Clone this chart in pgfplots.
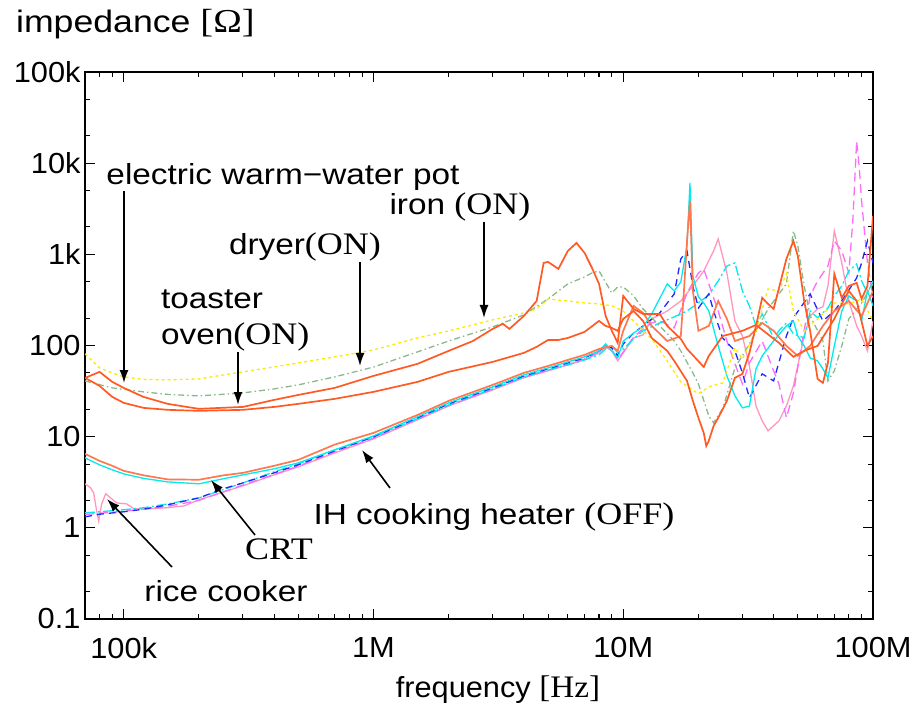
\documentclass[border=0pt]{standalone}
\usepackage{fontspec}
\setmainfont{Liberation Sans}[FakeStretch=1.15]
\newfontfamily\serifft{Liberation Serif}[FakeStretch=1.15,Scale=1.08]
\newfontfamily\tickft{Liberation Sans}[FakeStretch=1.06]
\newfontfamily\tickserif{Liberation Serif}[FakeStretch=1.06,Scale=1.08]
\usepackage{pgfplots}
\pgfplotsset{compat=1.18}
\usetikzlibrary{arrows.meta}
\definecolor{cY}{RGB}{250,235,0}
\definecolor{cG}{RGB}{140,185,140}
\definecolor{cO}{RGB}{255,90,35}
\definecolor{cOb}{RGB}{255,120,80}
\definecolor{cC}{RGB}{0,235,240}
\definecolor{cB}{RGB}{30,40,255}
\definecolor{cM}{RGB}{250,110,250}
\definecolor{cP}{RGB}{255,150,190}
\newcommand{\sr}[1]{{\serifft #1}}
\newcommand{\bigf}{\fontsize{29}{36}\selectfont}
\begin{document}
\begin{tikzpicture}
\useasboundingbox (-85pt,-91pt) rectangle (830pt,619pt);
\begin{axis}[
  xmode=log, ymode=log, scale only axis, width=788pt, height=547pt,
  xmin=7e4, xmax=1e8, ymin=0.1, ymax=1e5,
  xtick={1e5,1e6,1e7,1e8}, xticklabels={100k,1M,10M,100M},
  ytick={0.1,1,10,100,1000,10000,100000},
  yticklabels={0.1,1,10,100,1k,10k,100k},
  minor xtick={8e4,9e4,2e5,3e5,4e5,5e5,6e5,7e5,8e5,9e5,2e6,3e6,4e6,5e6,6e6,7e6,8e6,9e6,2e7,3e7,4e7,5e7,6e7,7e7,8e7,9e7},
  minor ytick={0.2,0.5,2,5,20,50,200,500,2000,5000,20000,50000},
  tick align=inside, major tick length=10pt, minor tick length=5pt,
  axis line style={line width=1.7pt},
  every tick/.style={black, line width=1.1pt},
  ticklabel style={font=\tickft\bigf},
  xticklabel style={yshift=-15pt},
  yticklabel style={xshift=-1pt},
  clip=true,
]
% P rice cooker (pink)
\addplot[cP, line width=1.3pt] coordinates {(7e4,3.04)(7.37e4,2.75)(7.58e4,2.42)(7.79e4,1.54)(7.94e4,1.19)(8.16e4,1.83)(8.47e4,2.36)(9.37e4,1.88)(1.028e5,1.83)(1.097e5,1.62)(1.283e5,1.62)(1.488e5,1.66)(1.742e5,1.74)(2e5,2.03)(3e5,2.89)(4e5,3.81)(5e5,4.67)(7e5,6.64)(1e6,9.46)(1.5e6,15.3)(2e6,21.7)(3e6,32.6)(4e6,44.2)(5e6,52.7)(6e6,61.3)(7e6,69.5)(8e6,83)(8.5e6,96.6)(9e6,87.3)(9.5e6,67.8)(1e7,83)(1.1e7,121)(1.2e7,131)(1.3e7,196)(1.5e7,239)(1.7e7,308)(1.9e7,450)(2.1e7,658)(2.3e7,1090)(2.4e7,1475)(2.6e7,625)(2.8e7,186)(3e7,127)(3.2e7,59.7)(3.4e7,21.7)(3.6e7,14.9)(3.8e7,11.6)(4.2e7,14.9)(4.5e7,21.7)(4.8e7,36.1)(5.3e7,127)(5.6e7,211)(6e7,252)(6.3e7,265)(6.6e7,450)(7e7,1806)(7.5e7,805)(8e7,308)(8.6e7,164)(9e7,127)(9.5e7,87.3)(1e8,186)};
% M violet dashed
\addplot[cM, line width=1.3pt, dash pattern=on 9pt off 5pt] coordinates {(7e4,1.4)(1e5,1.52)(1.5e5,1.72)(2e5,2.0)(3e5,2.95)(4e5,3.85)(5e5,4.75)(7e5,6.8)(1e6,9.6)(1.5e6,15.5)(2e6,22)(3e6,33)(4e6,45)(5e6,53.5)(6e6,62)(7e6,71)(8e6,85)(8.5e6,100)(9e6,90)(9.5e6,70)(1e7,85)(1.1e7,124)(1.2e7,152)(1.3e7,177)(1.4e7,186)(1.6e7,156)(1.8e7,377)(2e7,625)(2.1e7,692)(2.2e7,474)(2.4e7,239)(2.6e7,112)(2.8e7,62.9)(3e7,37.9)(3.2e7,64.4)(3.6e7,112)(4e7,52.7)(4.2e7,37.9)(4.5e7,16.1)(4.8e7,30.2)(5.3e7,145)(5.6e7,350)(6e7,511)(6.6e7,746)(7e7,1403)(7.5e7,1090)(8e7,625)(8.3e7,2324)(8.6e7,17500)(8.8e7,9310)(9e7,3850)(9.5e7,805)(1e8,333)};
% C2 cyan dash-dot
\addplot[cC, line width=1.3pt, dash pattern=on 10pt off 3pt on 2pt off 3pt] coordinates {(7e4,1.46)(8e4,1.5)(1e5,1.58)(1.2e5,1.66)(1.5e5,1.83)(2e5,2.13)(3e5,3.11)(4e5,4.11)(5e5,5.03)(7e5,7.17)(1e6,9.95)(1.5e6,15.7)(2e6,22.3)(3e6,33.4)(4e6,45.3)(5e6,54)(6e6,61.3)(7e6,69.5)(8e6,78.9)(8.5e6,91.8)(9e6,99)(9.5e6,83)(1e7,91.8)(1.1e7,118)(1.2e7,145)(1.4e7,177)(1.6e7,206)(1.8e7,239)(2e7,293)(2.2e7,359)(2.4e7,511)(2.6e7,746)(2.8e7,805)(3e7,397)(3.2e7,272)(3.4e7,164)(3.6e7,222)(4e7,121)(4.2e7,145)(4.5e7,177)(4.8e7,134)(5.3e7,121)(5.6e7,239)(6e7,201)(6.3e7,228)(6.6e7,258)(7e7,350)(7.5e7,450)(8e7,658)(8.6e7,785)(9e7,511)(9.5e7,377)(1e8,511)};
% B blue dashed (IH cooking heater)
\addplot[cB, line width=1.3pt, dash pattern=on 7pt off 5pt] coordinates {(7e4,1.32)(8e4,1.41)(1e5,1.5)(1.2e5,1.6)(1.5e5,1.79)(2e5,2.13)(2.5e5,2.68)(3e5,3.11)(4e5,4.01)(5e5,4.91)(7e5,6.99)(1e6,9.95)(1.5e6,16.1)(2e6,22.9)(3e6,34.3)(4e6,46.4)(5e6,55.4)(6e6,64.4)(7e6,73.1)(8e6,87.3)(8.5e6,99)(9e6,94.2)(9.5e6,76.9)(1e7,104)(1.1e7,137)(1.2e7,164)(1.4e7,228)(1.6e7,368)(1.7e7,891)(1.8e7,1090)(1.9e7,450)(2e7,258)(2.2e7,368)(2.3e7,239)(2.5e7,121)(2.8e7,87.3)(3e7,50.1)(3.2e7,26.6)(3.6e7,48.9)(4e7,40.9)(4.5e7,127)(4.8e7,201)(5.6e7,368)(6.3e7,186)(7e7,239)(7.5e7,308)(8.6e7,551)(9e7,805)(9.5e7,1403)(1e8,805)};
% C1 cyan solid
\addplot[cC, line width=1.3pt] coordinates {(7e4,5.86)(8e4,4.91)(9e4,4.33)(1e5,3.91)(1.2e5,3.49)(1.5e5,3.19)(2e5,3.04)(2.5e5,3.45)(3e5,3.81)(4e5,4.44)(5e5,5.16)(7e5,7.17)(1e6,10.2)(1.5e6,16.5)(2e6,23.5)(3e6,35.2)(4e6,47.6)(5e6,56.8)(6e6,66.1)(7e6,75)(8e6,87.3)(8.5e6,104)(9e6,87.3)(9.5e6,73.1)(1e7,112)(1.1e7,137)(1.2e7,160)(1.3e7,222)(1.5e7,474)(1.6e7,397)(1.7e7,498)(1.8e7,1236)(1.85e7,6067)(1.9e7,579)(2e7,341)(2.1e7,293)(2.2e7,239)(2.4e7,99)(2.6e7,46.4)(2.8e7,28)(3e7,20.7)(3.2e7,21.7)(3.4e7,55.4)(3.6e7,76.9)(4e7,112)(4.5e7,164)(4.8e7,186)(5e7,127)(5.3e7,99)(5.6e7,73.1)(6e7,67.8)(6.3e7,55.4)(6.6e7,44.2)(7e7,99)(7.5e7,239)(8e7,350)(8.6e7,308)(9e7,186)(9.5e7,397)(1e8,272)};
% G gray-green dash-dot
\addplot[cG, line width=1.3pt, dash pattern=on 6pt off 3pt on 1.5pt off 3pt] coordinates {(7e4,40.9)(9e4,34.3)(1.2e5,31)(1.5e5,29.1)(2e5,28)(3e5,30.2)(4e5,33.4)(5e5,37)(7e5,45.3)(1e6,58)(1.5e6,85.1)(2e6,112)(3e6,160)(4e6,217)(5e6,324)(6e6,474)(7e6,565)(7.5e6,625)(8e6,658)(9e6,377)(9.5e6,439)(1e7,439)(1.1e7,350)(1.2e7,252)(1.4e7,164)(1.6e7,112)(1.7e7,87.3)(1.9e7,50.1)(2e7,37.9)(2.2e7,16.9)(2.3e7,14.2)(2.5e7,20.2)(2.8e7,56.8)(3.2e7,104)(3.8e7,252)(4.5e7,474)(4.8e7,1806)(5e7,1236)(5.3e7,450)(5.6e7,211)(6.3e7,112)(6.6e7,40.9)(7e7,52.7)(7.5e7,99)(8e7,196)(9e7,293)(9.5e7,377)(1e8,474)};
% Y yellow dashed
\addplot[cY, line width=1.3pt, dash pattern=on 3pt off 3pt] coordinates {(7e4,81)(8e4,56.8)(9e4,50.1)(1e5,45.3)(1.2e5,42.5)(1.5e5,42)(2e5,43)(3e5,51.4)(4e5,58.2)(5e5,64.4)(7e5,75)(1e6,89.5)(1.5e6,121)(2e6,144.5)(3e6,191)(4e6,228)(4.5e6,252)(5e6,324)(6e6,308)(7e6,293)(8e6,286)(9e6,272)(1e7,239)(1.1e7,186)(1.3e7,118)(1.5e7,67.8)(1.7e7,39.9)(2e7,29.5)(2.2e7,35.2)(2.5e7,38.9)(2.8e7,94.2)(3e7,71.3)(3.4e7,145)(3.8e7,418)(4.2e7,397)(4.5e7,610)(4.8e7,239)(5.3e7,145)(6e7,196)(7e7,293)(8e7,286)(9e7,324)(1e8,186)};
% O3 orange CRT
\addplot[cOb, line width=1.7pt] coordinates {(7e4,6.48)(8e4,5.43)(9e4,4.79)(1e5,4.22)(1.2e5,3.77)(1.5e5,3.4)(2e5,3.37)(2.5e5,3.76)(3e5,4.01)(4e5,4.79)(5e5,5.57)(7e5,8.2)(1e6,11)(1.5e6,17.3)(2e6,24.7)(3e6,37)(4e6,50.1)(5e6,59.7)(6e6,69.5)(7e6,78.9)(8e6,91.8)(9e6,99)(9.5e6,87.3)(1e7,145)(1.1e7,272)(1.2e7,228)(1.3e7,164)(1.5e7,112)(1.7e7,127)(1.75e7,397)(1.8e7,1403)(1.85e7,3850)(1.9e7,397)(2e7,145)(2.2e7,164)(2.4e7,308)(2.6e7,196)(2.8e7,112)(3.2e7,127)(3.6e7,177)(4e7,145)(4.5e7,99)(5e7,76.9)(5.6e7,99)(6.3e7,164)(7e7,239)(8e7,308)(9e7,211)(1e8,397)};
% O2 orange toaster oven
\addplot[cO, line width=1.7pt] coordinates {(7e4,44.2)(8e4,36.1)(9e4,27.3)(1e5,23.5)(1.2e5,20.7)(1.5e5,19.7)(2e5,19.2)(3e5,19.7)(4e5,21.2)(5e5,22.9)(7e5,26)(1e6,31)(1.5e6,39.9)(2e6,51.4)(3e6,66.1)(4e6,83)(4.5e6,96.6)(5e6,115)(5.5e6,115)(6e6,121)(7e6,141)(8e6,186)(8.5e6,164)(9e6,156)(9.5e6,145)(1e7,196)(1.1e7,239)(1.2e7,186)(1.3e7,121)(1.5e7,87.3)(1.6e7,67.8)(1.8e7,40.9)(1.9e7,24.7)(2e7,16.1)(2.1e7,11)(2.15e7,7.9)(2.2e7,9)(2.3e7,13.1)(2.4e7,16.1)(2.6e7,24.7)(2.8e7,44.2)(3e7,48.9)(3.2e7,83)(3.4e7,164)(3.6e7,333)(3.8e7,286)(4e7,252)(4.5e7,891)(4.8e7,1403)(5e7,960)(5.3e7,308)(5.6e7,145)(6e7,43)(6.3e7,38.9)(6.6e7,64.4)(7e7,610)(7.5e7,333)(8e7,450)(8.6e7,486)(9e7,324)(9.5e7,450)(1e8,2637)};
% O1 orange dryer / iron
\addplot[cO, line width=1.7pt] coordinates {(7e4,44)(8e4,51.4)(9e4,39.9)(1e5,34.3)(1.2e5,27.3)(1.5e5,22.9)(2e5,20.2)(3e5,21.2)(4e5,25.3)(5e5,28.7)(7e5,34.3)(1e6,46.4)(1.5e6,62.9)(2e6,87.3)(2.5e6,112)(3e6,152)(3.3e6,173)(3.5e6,152)(4e6,211)(4.5e6,308)(4.8e6,805)(5e6,826)(5.5e6,692)(6e6,1090)(6.5e6,1334)(7e6,1036)(7.5e6,709)(8e6,474)(8.5e6,211)(9e6,145)(9.5e6,107)(1e7,350)(1.1e7,252)(1.2e7,222)(1.4e7,222)(1.5e7,164)(1.7e7,118)(1.8e7,91.8)(2.1e7,58.2)(2.2e7,76.9)(2.5e7,127)(3e7,145)(3.4e7,168)(4.2e7,107)(4.8e7,75)(5.3e7,87.3)(6e7,99)(7e7,196)(7.5e7,286)(8e7,397)(8.6e7,308)(9.5e7,99)(1e8,127)};
\end{axis}
\begin{scope}[font=\bigf, >={Latex[length=13pt,width=9pt]}, line width=1.6pt]
\node[anchor=west, font=\fontsize{31}{36}\selectfont] at (-73pt,595pt) {impedance \sr{[Ω]}};
\node at (413pt,-71pt) {\tickft frequency {\tickserif [Hz]}};
\node at (198pt,442pt) {electric warm−water pot};
\draw[->] (39pt,428pt) -- (39pt,236pt);
\node at (375pt,412pt) {iron \sr{(ON)}};
\draw[->] (399pt,397pt) -- (399pt,301pt);
\node at (220pt,372pt) {dryer\sr{(ON)}};
\draw[->] (275pt,357pt) -- (275pt,253pt);
\node[anchor=west, align=left] at (72pt,299pt) {toaster\\oven\sr{(ON)}};
\draw[->] (153pt,267pt) -- (153pt,214pt);
\node at (409pt,102pt) {IH cooking heater \sr{(OFF)}};
\draw[->] (305pt,131pt) -- (277pt,169pt);
\node at (194pt,70pt) {\sr{CRT}};
\draw[->] (170pt,84pt) -- (126pt,139pt);
\node at (141pt,28pt) {rice cooker};
\draw[->] (87pt,52pt) -- (22pt,120pt);
\end{scope}
\end{tikzpicture}
\end{document}
